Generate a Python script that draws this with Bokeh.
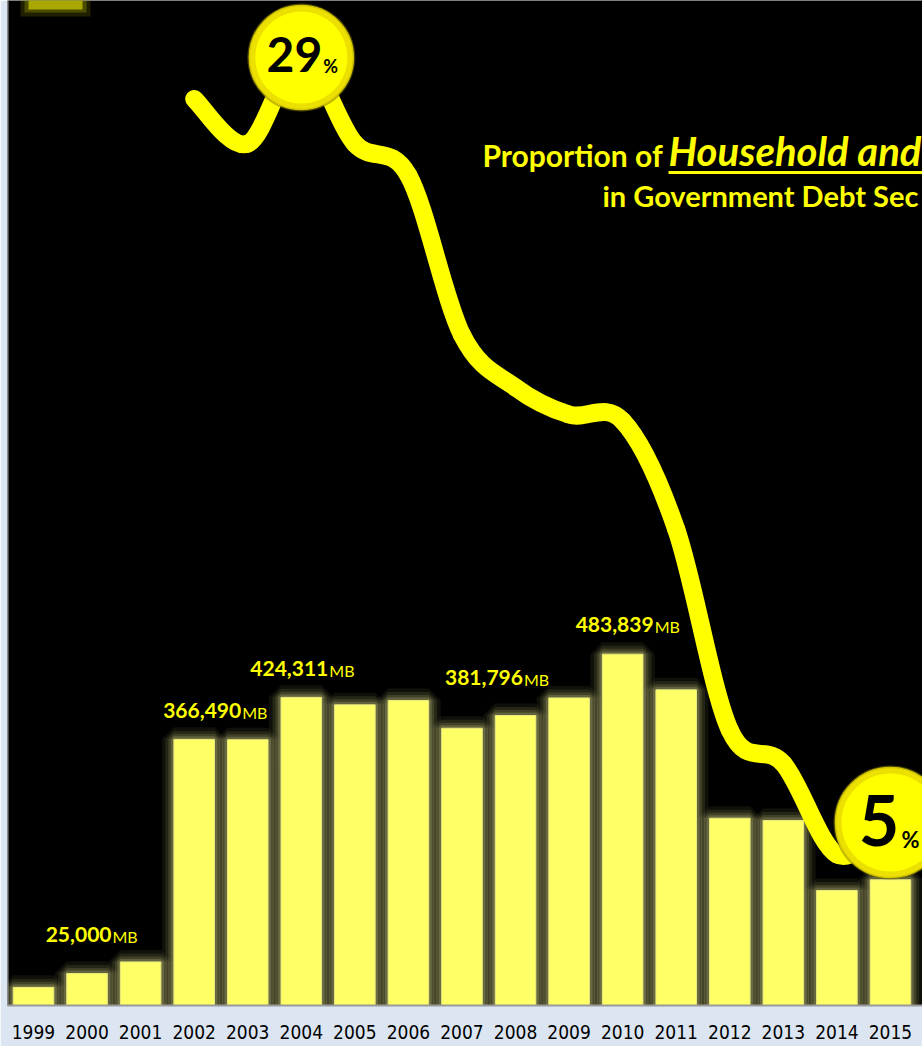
from bokeh.plotting import figure
from bokeh.models import Range1d, FixedTicker, Span, ColumnDataSource
from bokeh.core.properties import value
from bokeh.embed import file_html
from bokeh.resources import INLINE

# ---------------- data ----------------
years = list(range(1999, 2016))
amount_mb = [25000, 44000, 60000, 366490, 366000, 424311, 414000, 420000,
             381796, 399300, 423500, 483839, 434700, 257900, 254700, 158400, 173100]

share_years = list(range(2002, 2016))
share_pct = [27.7, 26.3, 29.0, 26.3, 25.3, 20.3, 18.65, 17.8, 17.6, 14.2, 7.9, 6.85, 4.0, 5.0]

labelled_years = [1999, 2002, 2004, 2007, 2010]
highlight_years = [2004, 2015]

title_lead = "Proportion of "
title_emph = "Household and"
title_line2 = "in Government Debt Sec"

# ---------------- layout constants (pixels) ----------------
W, H = 922, 1046
FRAME_L, FRAME_B = 7, 41
FRAME_H = H - FRAME_B            # 1005
PX_PER_YEAR = 53.56
FIRST_CENTER_PX = 33
MB_PER_PX = 1377
PX_PER_PCT = 31.875
ZERO_PCT_PX = 981.4               # from top of frame
BASE_K = 0.4                      # baseline correction factor (x font size)

YELLOW = "#ffff00"
BAR = "#ffff66"

x_range = Range1d(years[0] - (FIRST_CENTER_PX - FRAME_L) / PX_PER_YEAR,
                  years[0] + (W - FIRST_CENTER_PX) / PX_PER_YEAR)
y_range = Range1d(0, FRAME_H * MB_PER_PX)

p = figure(width=W, height=H, x_range=x_range, y_range=y_range,
           output_backend="svg", toolbar_location=None, y_axis_location=None,
           min_border_left=FRAME_L, min_border_right=0, min_border_top=0,
           min_border_bottom=FRAME_B, background_fill_color="black",
           border_fill_color="#dce6f2")
p.extra_y_ranges = {
    "pct": Range1d(-(FRAME_H - ZERO_PCT_PX) / PX_PER_PCT, ZERO_PCT_PX / PX_PER_PCT),
    "px": Range1d(FRAME_H, 0),
}
p.extra_x_ranges = {"px": Range1d(FRAME_L, W)}
p.grid.visible = False
p.outline_line_color = None

ax = p.xaxis[0]
ax.ticker = FixedTicker(ticks=years)
ax.major_label_overrides = {y: str(y) for y in years}
ax.major_tick_line_color = None
ax.minor_tick_line_color = None
ax.axis_line_color = "#9a9a9a"
ax.axis_line_width = 2
ax.major_label_standoff = 13
ax.major_label_text_font = "DejaVu Sans Condensed, DejaVu Sans"
ax.major_label_text_font_size = "19px"
ax.major_label_text_color = "black"

p.add_layout(Span(location=x_range.start, dimension="height",
                  line_color="#9a9a9a", line_width=2))

# ---------------- bars with soft glow ----------------
src = ColumnDataSource(dict(year=years, mb=amount_mb))
BW = 0.758
for lw, la in [(24, 0.07), (17, 0.1), (11, 0.14), (6, 0.2)]:
    p.vbar(x="year", top="mb", width=BW, source=src, fill_alpha=0,
           line_color="#e8e890", line_alpha=la, line_width=lw)
p.vbar(x="year", top="mb", width=BW, source=src, fill_color=BAR,
       line_color="#eaea80", line_width=1)

# ---------------- bar value labels ----------------
lab_vals = [amount_mb[years.index(y)] for y in labelled_years]
lab_dy = [-44, -20, -20, -42, -21]
lab_src = ColumnDataSource(dict(
    x=labelled_years, y=lab_vals,
    num=[f"{v:,}" for v in lab_vals], unit=["MB"] * len(lab_vals),
    dx=[78, 47, 27, 61, 31], dx2=[79, 48, 28, 62, 32],
    dy=[d - BASE_K * 21 for d in lab_dy], dy2=[d - BASE_K * 16 for d in lab_dy],
))
p.text(x="x", y="y", text="num", x_offset="dx", y_offset="dy", source=lab_src,
       text_align="right", text_baseline="alphabetic", text_color=YELLOW,
       text_font=value("Lato"), text_font_style="bold", text_font_size="21px")
p.text(x="x", y="y", text="unit", x_offset="dx2", y_offset="dy2", source=lab_src,
       text_align="left", text_baseline="alphabetic", text_color=YELLOW,
       text_font=value("Lato"), text_font_size="16px")

# ---------------- smoothed share line (Catmull-Rom -> Bezier) ----------------
n = len(share_years)
def pt(i):
    i = max(0, min(n - 1, i))
    return share_years[i], share_pct[i]

bz = dict(x0=[], y0=[], x1=[], y1=[], cx0=[], cy0=[], cx1=[], cy1=[])
for i in range(n - 1):
    xa, ya = pt(i - 1); xb, yb = pt(i); xc, yc = pt(i + 1); xd, yd = pt(i + 2)
    bz["x0"].append(xb); bz["y0"].append(yb)
    bz["x1"].append(xc); bz["y1"].append(yc)
    bz["cx0"].append(xb + (xc - xa) / 6); bz["cy0"].append(yb + (yc - ya) / 6)
    bz["cx1"].append(xc - (xd - xb) / 6); bz["cy1"].append(yc - (yd - yb) / 6)
p.bezier(x0="x0", y0="y0", x1="x1", y1="y1", cx0="cx0", cy0="cy0",
         cx1="cx1", cy1="cy1", source=ColumnDataSource(bz), y_range_name="pct",
         line_color=YELLOW, line_width=18, line_cap="round", line_join="round")

# ---------------- highlight bubbles ----------------
hl_pct = [share_pct[share_years.index(y)] for y in highlight_years]
num_fs, unit_fs = [48, 70], [18, 22]
hl_src = ColumnDataSource(dict(
    x=highlight_years, y=hl_pct,
    num=[f"{v:.0f}" for v in hl_pct], unit=["%"] * len(hl_pct),
    s_shadow=[108, 114], s_main=[104, 110], s_in=[92, 98],
    dx=[21, 9], dx2=[22, 11],
    dy=[16 - BASE_K * num_fs[0], 26 - BASE_K * num_fs[1]],
    dy2=[16 - BASE_K * unit_fs[0], 26 - BASE_K * unit_fs[1]],
    fs=[f"{f}px" for f in num_fs], fs2=[f"{f}px" for f in unit_fs],
))
p.scatter(x="x", y="y", size="s_shadow", source=hl_src, y_range_name="pct",
          fill_color="#7a7200", fill_alpha=0.55, line_color=None)
p.scatter(x="x", y="y", size="s_main", source=hl_src, y_range_name="pct",
          fill_color="#ece000", line_color="#d6c800", line_width=1.5)
p.scatter(x="x", y="y", size="s_in", source=hl_src, y_range_name="pct",
          fill_color=YELLOW, line_color=None)
p.text(x="x", y="y", text="num", x_offset="dx", y_offset="dy", source=hl_src,
       y_range_name="pct", text_align="right", text_baseline="alphabetic",
       text_color="black", text_font=value("Lato"), text_font_style="bold",
       text_font_size="fs")
p.text(x="x", y="y", text="unit", x_offset="dx2", y_offset="dy2", source=hl_src,
       y_range_name="pct", text_align="left", text_baseline="alphabetic",
       text_color="black", text_font=value("Lato"), text_font_style="bold",
       text_font_size="fs2")

# ---------------- title (pixel layout) ----------------
p.text(x=[482], y=[166 - BASE_K * 30], text=[title_lead], x_range_name="px",
       y_range_name="px", text_align="left", text_baseline="alphabetic",
       text_color=YELLOW, text_font=value("Lato"), text_font_style="bold",
       text_font_size="30px")
p.text(x=[668], y=[166 - BASE_K * 40], text=[title_emph], x_range_name="px",
       y_range_name="px", text_align="left", text_baseline="alphabetic",
       text_color=YELLOW, text_font=value("Lato"), text_font_style="bold italic",
       text_font_size="40px")
p.segment(x0=[668], y0=[172], x1=[W + 5], y1=[172], x_range_name="px",
          y_range_name="px", line_color=YELLOW, line_width=3)
p.text(x=[602], y=[207 - BASE_K * 29], text=[title_line2], x_range_name="px",
       y_range_name="px", text_align="left", text_baseline="alphabetic",
       text_color=YELLOW, text_font=value("Lato"), text_font_style="bold",
       text_font_size="29px")

# legend swatch peeking in at the top-left
p.rect(x=[55], y=[2], width=[70], height=[28], x_range_name="px", y_range_name="px",
       fill_color="#a0a000", fill_alpha=0.2, line_color=None)
p.rect(x=[55], y=[1], width=[62], height=[22], x_range_name="px", y_range_name="px",
       fill_color="#a0a000", fill_alpha=0.35, line_color=None)
p.rect(x=[55], y=[0], width=[54], height=[18], x_range_name="px", y_range_name="px",
       fill_color="#a8a800", line_color=None)

open("out.html", "w").write(file_html(p, INLINE))
